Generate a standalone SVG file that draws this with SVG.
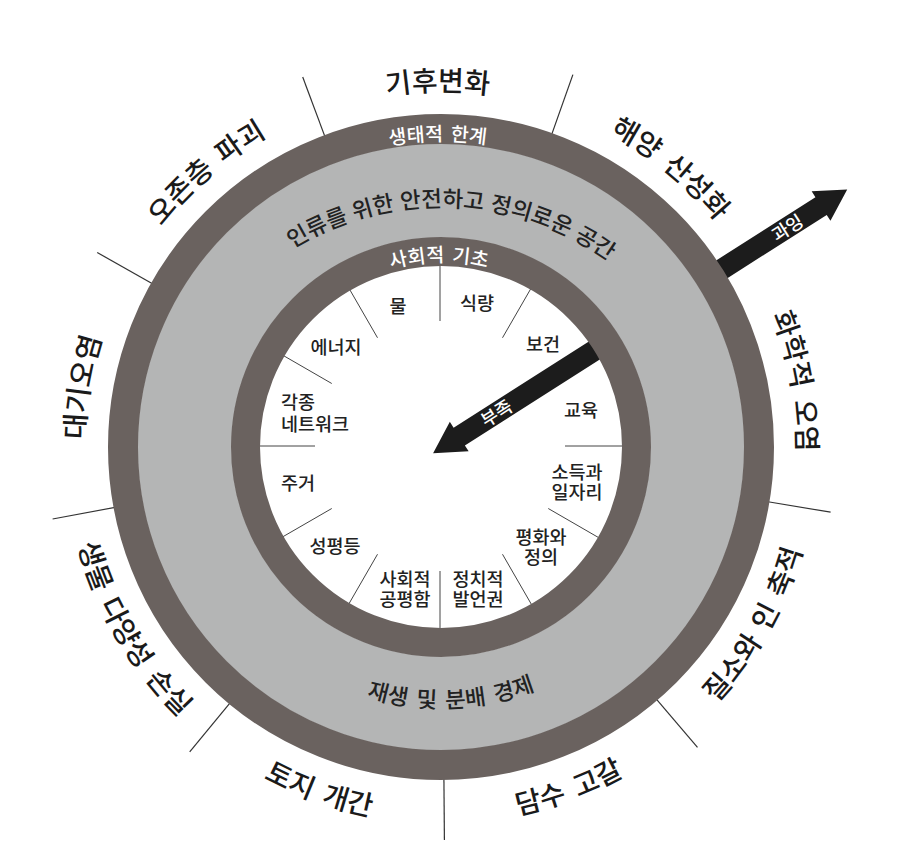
<svg xmlns="http://www.w3.org/2000/svg" width="902" height="856" viewBox="0 0 902 856">
<defs>
<style>
.lbl{font-family:"Noto Sans CJK KR","Noto Sans",sans-serif;font-weight:500;}
.outer{font-size:28px;fill:#1a1a1a;word-spacing:5px;}
.ringtxt{font-size:19.5px;fill:#ffffff;word-spacing:3px;}
.band{font-size:22.5px;fill:#222222;}
.found{font-size:18.5px;fill:#222222;}
.arrowtxt{font-size:18px;fill:#ffffff;}
.tick{stroke:#333333;stroke-width:1.2;fill:none;}
.itick{stroke:#444444;stroke-width:1;fill:none;}
.arrow{fill:#1c1c1c;}
</style>
<path id="pTop" d="M 441,803 A 356 356 0 1 1 441,91 A 356 356 0 1 1 441,803"/>
<path id="pBot" d="M 441,71 A 376 376 0 1 0 441,823 A 376 376 0 1 0 441,71"/>
<path id="pRing1" d="M 441,753 A 306 306 0 1 1 441,141 A 306 306 0 1 1 441,753"/>
<path id="pRing2" d="M 441,632 A 185 185 0 1 1 441,262 A 185 185 0 1 1 441,632"/>
<path id="pBand" d="M 441,781 A 287 287 0 1 1 441,207 A 287 287 0 1 1 441,781"/>
<path id="pEco" d="M 441,186 A 261 261 0 1 0 441,708 A 261 261 0 1 0 441,186"/>
</defs>
<rect x="0" y="0" width="902" height="856" fill="#ffffff"/>

<g id="connectors">
  <g id="arrow-overshoot" transform="translate(441,447) rotate(-32.5)">
    <polygon class="arrow" points="316,-9.5 450,-9.5 450,-16.5 481,1 450,18.5 450,11.5 316,11.5"/>
    <text class="lbl arrowtxt" x="410" y="8" text-anchor="middle">과잉</text>
  </g>
  <g id="arrow-shortfall" transform="translate(441,447) rotate(-32.5)">
    <polygon class="arrow" points="200,-9.5 21,-9.5 21,-16.5 -10,1 21,18.5 21,11.5 200,11.5"/>
    <text class="lbl arrowtxt" x="65" y="8" text-anchor="middle">부족</text>
  </g>
  <g id="outer-dividers">
    <line class="tick" x1="766.5" y1="501.5" x2="830.6" y2="512.2"/>
    <line class="tick" x1="655.3" y1="697.9" x2="697.5" y2="747.4"/>
    <line class="tick" x1="443.9" y1="777" x2="444.4" y2="840"/>
    <line class="tick" x1="231.1" y1="701.6" x2="189.7" y2="751.8"/>
    <line class="tick" x1="116.5" y1="507.1" x2="52.6" y2="519"/>
    <line class="tick" x1="153.8" y1="284.5" x2="97.2" y2="252.5"/>
    <line class="tick" x1="325.4" y1="137.9" x2="302.7" y2="77"/>
    <line class="tick" x1="551.2" y1="135.9" x2="572.9" y2="74.6"/>
  </g>
  <g id="inner-dividers">
    <line class="itick" x1="440" y1="321" x2="440" y2="262"/>
    <line class="itick" x1="502.5" y1="337.75" x2="532" y2="286.6"/>
    <line class="itick" x1="565" y1="446" x2="624" y2="446"/>
    <line class="itick" x1="548.25" y1="508.5" x2="599.3" y2="538"/>
    <line class="itick" x1="502.5" y1="554.25" x2="532" y2="605.4"/>
    <line class="itick" x1="440" y1="571" x2="440" y2="630"/>
    <line class="itick" x1="377.5" y1="554.25" x2="348" y2="605.4"/>
    <line class="itick" x1="331.75" y1="508.5" x2="280.7" y2="538"/>
    <line class="itick" x1="315" y1="446" x2="256" y2="446"/>
    <line class="itick" x1="331.75" y1="383.5" x2="280.7" y2="354"/>
    <line class="itick" x1="377.5" y1="337.75" x2="348" y2="286.6"/>
  </g>
</g>

<g id="rings">
  <circle cx="441" cy="447" r="256.5" fill="none" stroke="#b4b5b5" stroke-width="94"/>
  <circle id="ecological-ceiling" cx="441" cy="447" r="318" fill="none" stroke="#6a625f" stroke-width="30"/>
  <circle id="social-foundation" cx="441" cy="447" r="195.5" fill="none" stroke="#6a625f" stroke-width="29"/>
</g>

<g id="ring-labels">
  <g id="lbl-ceiling" transform="rotate(-0.6 441 447)"><text class="lbl ringtxt" text-anchor="middle"><textPath href="#pRing1" startOffset="50%">생태적 한계</textPath></text></g>
  <g id="lbl-foundation" transform="rotate(-0.6 441 447)"><text class="lbl ringtxt" text-anchor="middle"><textPath href="#pRing2" startOffset="50%">사회적 기초</textPath></text></g>
  <g id="lbl-safe-space" transform="rotate(2.3 441 494)"><text class="lbl band" text-anchor="middle" word-spacing="1"><textPath href="#pBand" startOffset="50%">인류를 위한 안전하고 정의로운 공간</textPath></text></g>
  <g id="lbl-economy" transform="rotate(-2.3 441 447)"><text class="lbl band" text-anchor="middle" word-spacing="4"><textPath href="#pEco" startOffset="50%">재생 및 분배 경제</textPath></text></g>
</g>

<g id="ecological-boundaries">
  <g id="climate" transform="rotate(-0.5 441 447)"><text class="lbl outer" text-anchor="middle"><textPath href="#pTop" startOffset="50%">기후변화</textPath></text></g>
  <g id="ocean" transform="rotate(39.5 441 447)"><text class="lbl outer" text-anchor="middle"><textPath href="#pTop" startOffset="50%">해양 산성화</textPath></text></g>
  <g id="chemical" transform="rotate(79.5 441 447)"><text class="lbl outer" text-anchor="middle"><textPath href="#pTop" startOffset="50%">화학적 오염</textPath></text></g>
  <g id="nitrogen" transform="rotate(-60.5 441 447)"><text class="lbl outer" text-anchor="middle"><textPath href="#pBot" startOffset="50%">질소와 인 축적</textPath></text></g>
  <g id="freshwater" transform="rotate(-20.5 441 447)"><text class="lbl outer" text-anchor="middle"><textPath href="#pBot" startOffset="50%">담수 고갈</textPath></text></g>
  <g id="land" transform="rotate(19.5 441 447)"><text class="lbl outer" text-anchor="middle"><textPath href="#pBot" startOffset="50%">토지 개간</textPath></text></g>
  <g id="biodiversity" transform="rotate(59.5 441 447)"><text class="lbl outer" text-anchor="middle"><textPath href="#pBot" startOffset="50%">생물 다양성 손실</textPath></text></g>
  <g id="air" transform="rotate(-80.5 441 447)"><text class="lbl outer" text-anchor="middle"><textPath href="#pTop" startOffset="50%">대기오염</textPath></text></g>
  <g id="ozone" transform="rotate(-40.5 441 447)"><text class="lbl outer" text-anchor="middle"><textPath href="#pTop" startOffset="50%">오존층 파괴</textPath></text></g>
</g>

<g id="social-foundations">
  <g id="water"><text class="lbl found" x="398" y="313" text-anchor="middle">물</text></g>
  <g id="food"><text class="lbl found" x="477" y="310" text-anchor="middle">식량</text></g>
  <g id="health"><text class="lbl found" x="543" y="351" text-anchor="middle">보건</text></g>
  <g id="education"><text class="lbl found" x="581" y="417" text-anchor="middle">교육</text></g>
  <g id="income"><text class="lbl found" text-anchor="middle"><tspan x="577" y="479">소득과</tspan><tspan x="577" y="499">일자리</tspan></text></g>
  <g id="peace"><text class="lbl found" text-anchor="middle"><tspan x="541" y="544">평화와</tspan><tspan x="541" y="564">정의</tspan></text></g>
  <g id="political"><text class="lbl found" text-anchor="middle"><tspan x="478" y="586">정치적</tspan><tspan x="478" y="606">발언권</tspan></text></g>
  <g id="equity"><text class="lbl found" text-anchor="middle"><tspan x="405" y="586">사회적</tspan><tspan x="405" y="606">공평함</tspan></text></g>
  <g id="gender"><text class="lbl found" x="335" y="553" text-anchor="middle">성평등</text></g>
  <g id="housing"><text class="lbl found" x="281" y="490">주거</text></g>
  <g id="networks"><text class="lbl found"><tspan x="281" y="409">각종</tspan><tspan x="281" y="431">네트워크</tspan></text></g>
  <g id="energy"><text class="lbl found" x="336" y="354" text-anchor="middle">에너지</text></g>
</g>
</svg>
